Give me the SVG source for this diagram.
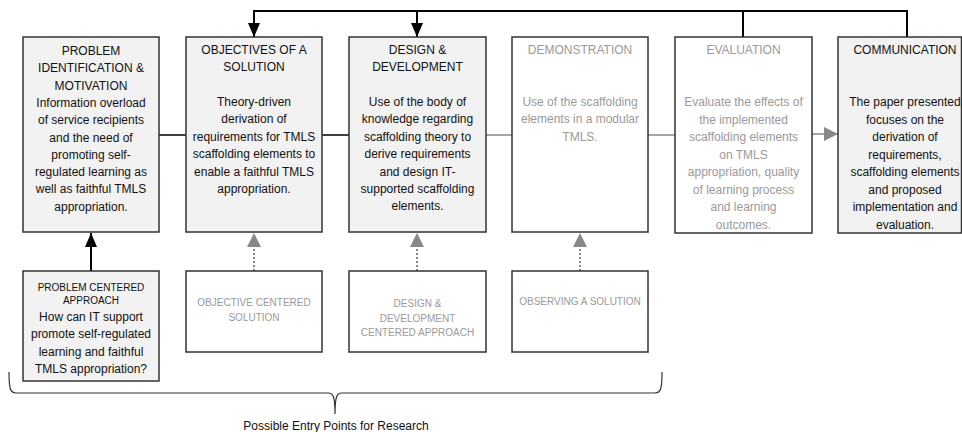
<svg xmlns="http://www.w3.org/2000/svg" width="962" height="432" viewBox="0 0 962 432">
<style>
.box{stroke:#333;stroke-width:1.5}
.fill{fill:#f2f2f2}
.white{fill:#fff}
text{font-family:"Liberation Sans",Arial,sans-serif;font-size:12px;text-anchor:middle}
.dark{fill:#111}
.grey{fill:#9a9a9a}
.small{font-size:10px}
.blk{stroke:#000;stroke-width:2;fill:none}
.gry{stroke:#888;stroke-width:1.5;fill:none}
.dot{stroke:#888;stroke-width:2;stroke-dasharray:2,2;fill:none}
</style>
<defs>
<marker id="ab" viewBox="0 0 14 12" refX="14" refY="6" markerWidth="14" markerHeight="12" markerUnits="userSpaceOnUse" orient="auto"><path d="M0,0 L14,6 L0,12 Z" fill="#000"/></marker>
<marker id="ag" viewBox="0 0 14 14" refX="14" refY="7" markerWidth="14" markerHeight="14" markerUnits="userSpaceOnUse" orient="auto"><path d="M0,0 L14,7 L0,14 Z" fill="#888"/></marker>
</defs>

<g id="connectors">
<polyline class="blk" points="907,37 907,11 254,11 254,37" marker-end="url(#ab)"/>
<line class="blk" x1="417" y1="11" x2="417" y2="37" marker-end="url(#ab)"/>
<line class="blk" x1="743" y1="11" x2="743" y2="37"/>
<line x1="159" y1="135" x2="186" y2="135" stroke="#000" stroke-width="1.5"/>
<line x1="322" y1="135" x2="349" y2="135" stroke="#000" stroke-width="1.5"/>
<line class="gry" x1="486" y1="135" x2="512" y2="135"/>
<line class="gry" x1="648" y1="135" x2="675" y2="135"/>
<line class="gry" x1="812" y1="134" x2="838" y2="134" marker-end="url(#ag)"/>
<line class="blk" x1="91" y1="271" x2="91" y2="233" marker-end="url(#ab)"/>
<line class="dot" x1="254" y1="271" x2="254" y2="247"/>
<path d="M247,247 L254,233 L261,247 Z" fill="#888"/>
<line class="dot" x1="417" y1="271" x2="417" y2="247"/>
<path d="M410,247 L417,233 L424,247 Z" fill="#888"/>
<line class="dot" x1="580" y1="271" x2="580" y2="247"/>
<path d="M573,247 L580,233 L587,247 Z" fill="#888"/>
</g>

<g id="n1">
<rect class="box fill" x="23" y="37" width="136" height="195"/>
<text class="dark"><tspan x="91" y="55">PROBLEM</tspan><tspan x="91" y="72.3">IDENTIFICATION &amp;</tspan><tspan x="91" y="89.6">MOTIVATION</tspan><tspan x="91" y="106.9">Information overload</tspan><tspan x="91" y="124.2">of service recipients</tspan><tspan x="91" y="141.5">and the need of</tspan><tspan x="91" y="158.8">promoting self-</tspan><tspan x="91" y="176.1">regulated learning as</tspan><tspan x="91" y="193.4">well as faithful TMLS</tspan><tspan x="91" y="210.7">appropriation.</tspan></text>
</g>

<g id="n2">
<rect class="box fill" x="186" y="37" width="136" height="195"/>
<text class="dark"><tspan x="254" y="54">OBJECTIVES OF A</tspan><tspan x="254" y="71">SOLUTION</tspan><tspan x="254" y="106">Theory-driven</tspan><tspan x="254" y="123.4">derivation of</tspan><tspan x="254" y="140.8">requirements for TMLS</tspan><tspan x="254" y="158.2">scaffolding elements to</tspan><tspan x="254" y="175.6">enable a faithful TMLS</tspan><tspan x="254" y="193">appropriation.</tspan></text>
</g>

<g id="n3">
<rect class="box fill" x="349" y="37" width="137" height="195"/>
<text class="dark"><tspan x="417.5" y="54">DESIGN &amp;</tspan><tspan x="417.5" y="71">DEVELOPMENT</tspan><tspan x="417.5" y="106">Use of the body of</tspan><tspan x="417.5" y="123.4">knowledge regarding</tspan><tspan x="417.5" y="140.8">scaffolding theory to</tspan><tspan x="417.5" y="158.2">derive requirements</tspan><tspan x="417.5" y="175.6">and design IT-</tspan><tspan x="417.5" y="193">supported scaffolding</tspan><tspan x="417.5" y="210.4">elements.</tspan></text>
</g>

<g id="n4">
<rect class="box white" x="512" y="37" width="136" height="195"/>
<text class="grey"><tspan x="580" y="54">DEMONSTRATION</tspan><tspan x="580" y="106">Use of the scaffolding</tspan><tspan x="580" y="123.4">elements in a modular</tspan><tspan x="580" y="140.8">TMLS.</tspan></text>
</g>

<g id="n5">
<rect class="box white" x="675" y="37" width="137" height="196"/>
<text class="grey"><tspan x="743.5" y="54">EVALUATION</tspan><tspan x="743.5" y="106">Evaluate the effects of</tspan><tspan x="743.5" y="123.5">the implemented</tspan><tspan x="743.5" y="141">scaffolding elements</tspan><tspan x="743.5" y="158.5">on TMLS</tspan><tspan x="743.5" y="176">appropriation, quality</tspan><tspan x="743.5" y="193.5">of learning process</tspan><tspan x="743.5" y="211">and learning</tspan><tspan x="743.5" y="228.5">outcomes.</tspan></text>
</g>

<g id="n6">
<rect class="box fill" x="838" y="37" width="123.5" height="196"/>
<text class="dark"><tspan x="905" y="54">COMMUNICATION</tspan><tspan x="905" y="106">The paper presented</tspan><tspan x="905" y="123.5">focuses on the</tspan><tspan x="905" y="141">derivation of</tspan><tspan x="905" y="158.5">requirements,</tspan><tspan x="905" y="176">scaffolding elements</tspan><tspan x="905" y="193.5">and proposed</tspan><tspan x="905" y="211">implementation and</tspan><tspan x="905" y="228.5">evaluation.</tspan></text>
</g>

<g id="b1">
<rect class="box fill" x="23" y="271" width="136" height="110"/>
<text class="dark"><tspan class="small" x="91" y="291">PROBLEM CENTERED</tspan><tspan class="small" x="91" y="304">APPROACH</tspan><tspan x="91" y="321">How can IT support</tspan><tspan x="91" y="338.3">promote self-regulated</tspan><tspan x="91" y="355.6">learning and faithful</tspan><tspan x="91" y="373">TMLS appropriation?</tspan></text>
</g>

<g id="b2">
<rect class="box white" x="186" y="271" width="136" height="81"/>
<text class="grey small"><tspan x="254" y="306">OBJECTIVE CENTERED</tspan><tspan x="254" y="321">SOLUTION</tspan></text>
</g>

<g id="b3">
<rect class="box white" x="349" y="271" width="137" height="81"/>
<text class="grey small"><tspan x="417.5" y="307">DESIGN &amp;</tspan><tspan x="417.5" y="321.5">DEVELOPMENT</tspan><tspan x="417.5" y="336">CENTERED APPROACH</tspan></text>
</g>

<g id="b4">
<rect class="box white" x="512" y="271" width="136" height="81"/>
<text class="grey small"><tspan x="580" y="305">OBSERVING A SOLUTION</tspan></text>
</g>

<g id="brace">
<path d="M9,372 C9,388 10,393 16,393 L328,393 C333,393 335,396 335,414 M335,414 C335,396 337,393 342,393 L655,393 C661,393 662,388 662,372" fill="none" stroke="#333" stroke-width="1.2"/>
<text class="dark" x="336" y="429.5">Possible Entry Points for Research</text>
</g>
</svg>
